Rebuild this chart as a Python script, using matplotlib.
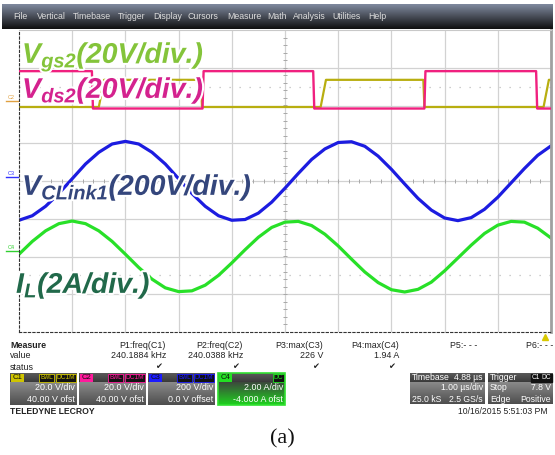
import numpy as np
import matplotlib
matplotlib.use('Agg')
import matplotlib.pyplot as plt
import matplotlib.patheffects as pe
from matplotlib.patches import Rectangle

plt.rcParams['font.family'] = ['Liberation Sans', 'DejaVu Sans']

# time axis: 1 us/div, 10 div, read every 0.25 us
t = np.arange(0, 10.01, 0.25)

# C3 V_CLink1 (divisions from centre)
vclink = [-1.04, -0.92, -0.67, -0.33, 0.06, 0.45, 0.76, 0.98, 1.05, 0.98,
          0.76, 0.45, 0.06, -0.33, -0.67, -0.92, -1.04, -1.02, -0.85, -0.56,
          -0.19, 0.20, 0.57, 0.85, 1.02, 1.04, 0.92, 0.66, 0.31, -0.08,
          -0.46, -0.77, -0.98, -1.05, -0.97, -0.75, -0.43, -0.05, 0.33, 0.68,
          0.93]
# C4 I_L (divisions from centre)
il = [-1.94, -1.60, -1.32, -1.13, -1.06, -1.13, -1.32, -1.60, -1.94, -2.29,
      -2.60, -2.83, -2.93, -2.91, -2.76, -2.50, -2.17, -1.82, -1.49, -1.23,
      -1.09, -1.07, -1.18, -1.41, -1.72, -2.07, -2.41, -2.69, -2.88, -2.94,
      -2.87, -2.68, -2.38, -2.04, -1.70, -1.39, -1.17, -1.07, -1.09, -1.25,
      -1.51]

# C2 V_ds2 and C1 V_gs2 square waves: edge times (us) and levels (div)
vds_edges = [1.37, 3.45, 5.53, 7.62, 9.72]
vds_lo, vds_hi = 1.92, 2.91
vgs_edges = [1.50, 3.42, 5.67, 7.60, 9.86]
vgs_lo, vgs_hi = 1.96, 2.68

menu = ['File', 'Vertical', 'Timebase', 'Trigger', 'Display', 'Cursors',
        'Measure', 'Math', 'Analysis', 'Utilities', 'Help']
menu_x = [13, 37, 73, 118, 153, 188, 227, 267, 293, 332, 368]

meas_names = ['P1:freq(C1)', 'P2:freq(C2)', 'P3:max(C3)', 'P4:max(C4)',
              'P5:- - -', 'P6:- - -']
meas_values = ['240.1884 kHz', '240.0388 kHz', '226 V', '1.94 A', '', '']
meas_ok = [True, True, True, True, False, False]
meas_right = [166, 243, 323, 399, 477, 553]

channels = ['C1', 'C2', 'C3', 'C4']
ch_colors = ['#cfc400', '#ff1a9c', '#1a1aff', '#22e022']
ch_vdiv = ['20.0 V/div', '20.0 V/div', '200 V/div', '2.00 A/div']
ch_ofst = ['40.00 V ofst', '40.00 V ofst', '0.0 V offset', '-4.000 A ofst']
ch_x = [10, 79, 148, 218]


def square(edges, lo, hi, start_high, rise, fall):
    xs, ys = [0.0], [hi if start_high else lo]
    level = start_high
    for e in edges:
        dt = fall if level else rise
        xs += [e, e + dt]
        ys += [hi if level else lo, lo if level else hi]
        level = not level
    xs.append(10.0)
    ys.append(hi if level else lo)
    return xs, ys


def grad(ax, x0, x1, y0, y1, c0, c1):
    c0 = np.array(matplotlib.colors.to_rgb(c0))
    c1 = np.array(matplotlib.colors.to_rgb(c1))
    f = np.linspace(0, 1, 40)[:, None]
    img = (c0 * (1 - f) + c1 * f)[:, None, :]
    ax.imshow(img, extent=[x0, x1, y1, y0], aspect='auto', zorder=1)


fig = plt.figure(figsize=(5.55, 4.55), dpi=100)
ov = fig.add_axes([0, 0, 1, 1], zorder=0)
ov.axis('off')

# menu bar
grad(ov, 2, 553, 4, 29, '#7f899e', '#101010')
for name, x in zip(menu, menu_x):
    ov.text(x, 16.5, name, color='#dcdcdc', fontsize=6.3, va='center', zorder=3)

# channel markers on the left edge
for lab, col, y in zip(['C2', 'C3', 'C4'], ['#e0a040', '#3030ff', '#30d030'], [101, 177, 251]):
    ov.text(11, y - 1, lab, color=col, fontsize=4, ha='center', va='bottom',
            rotation=0, zorder=3)
    ov.plot([6, 19], [y, y], color=col, lw=1, zorder=3)

# measurement table
ov.text(10, 345, 'Measure', fontsize=6.4, weight='bold', va='center', color='#222')
ov.text(10, 356, 'value', fontsize=6.4, va='center', color='#222')
ov.text(10, 367, 'status', fontsize=6.4, va='center', color='#222')
for name, val, ok, xr in zip(meas_names, meas_values, meas_ok, meas_right):
    ov.text(xr, 345, name, fontsize=6.4, ha='right', va='center', color='#222')
    ov.text(xr, 356, val, fontsize=6.4, ha='right', va='center', color='#222')
    if ok:
        ov.text(xr - 7, 367, '\u2714', fontsize=6, ha='center', va='center',
                color='#222', family='DejaVu Sans')
ov.plot([545], [337], marker='^', color='#d8c800', ms=4.5, zorder=3)

# channel boxes
for lab, col, vd, of, x in zip(channels, ch_colors, ch_vdiv, ch_ofst, ch_x):
    w = 67
    grad(ov, x, x + w, 373, 382, '#5a5a5a', '#3a3a3a')
    if lab == 'C4':
        grad(ov, x, x + w, 382, 405, '#3c4a3c', '#1ed21e')
        ov.add_patch(Rectangle((x, 373), w, 32, fill=False, ec='#30e030', lw=1.2, zorder=4))
    else:
        grad(ov, x, x + w, 382, 405, '#8a8a8a', '#4e4e4e')
    ov.add_patch(Rectangle((x + 1, 374), 13, 7.5, fc=col, ec='none', zorder=3))
    ov.text(x + 7.5, 377.8, lab, fontsize=5.6, ha='center', va='center', color='#111', zorder=4)
    if lab == 'C4':
        ov.text(x + w - 2, 377.8, 'DC', fontsize=4.8, ha='right', va='center', color=col, zorder=4,
                bbox=dict(fc='#111', ec=col, lw=0.6, pad=0.6))
    else:
        ov.text(x + w - 2, 377.8, 'DC1M', fontsize=4.8, ha='right', va='center', color=col, zorder=4,
                bbox=dict(fc='#111', ec=col, lw=0.6, pad=0.6))
        ov.text(x + w - 24, 377.8, 'BwL', fontsize=4.8, ha='right', va='center', color=col, zorder=4,
                bbox=dict(fc='#111', ec=col, lw=0.6, pad=0.6))
    ov.text(x + w - 2, 388, vd, fontsize=6.4, ha='right', va='center', color='white', zorder=4)
    ov.text(x + w - 2, 399, of, fontsize=6.4, ha='right', va='center', color='white', zorder=4)

# timebase / trigger boxes
for x0, x1 in [(410, 485), (488, 553)]:
    grad(ov, x0, x1, 373, 382, '#5a5a5a', '#3a3a3a')
    grad(ov, x0, x1, 382, 404, '#8a8a8a', '#4e4e4e')
ov.text(412, 377.8, 'Timebase', fontsize=6.2, va='center', color='white', zorder=4)
ov.text(483, 377.8, '4.88 \u00b5s', fontsize=6.2, ha='right', va='center', color='white', zorder=4)
ov.text(483, 388, '1.00 \u00b5s/div', fontsize=6.2, ha='right', va='center', color='white', zorder=4)
ov.text(412, 399, '25.0 kS', fontsize=6.2, va='center', color='white', zorder=4)
ov.text(483, 399, '2.5 GS/s', fontsize=6.2, ha='right', va='center', color='white', zorder=4)
ov.text(490, 377.8, 'Trigger', fontsize=6.2, va='center', color='white', zorder=4)
ov.text(551, 377.8, 'DC', fontsize=4.8, ha='right', va='center', color='white', zorder=4,
        bbox=dict(fc='#111', ec='#111', pad=0.6))
ov.text(540, 377.8, 'C1', fontsize=4.8, ha='right', va='center', color='white', zorder=4,
        bbox=dict(fc='#111', ec='#111', pad=0.6))
ov.text(490, 388, 'Stop', fontsize=6.2, va='center', color='white', zorder=4)
ov.text(551, 388, '7.8 V', fontsize=6.2, ha='right', va='center', color='white', zorder=4)
ov.text(490, 399, 'Edge', fontsize=6.2, va='center', color='white', zorder=4)
ov.text(551, 399, 'Positive', fontsize=6.2, ha='right', va='center', color='white', zorder=4)

ov.text(10, 411, 'TELEDYNE LECROY', fontsize=6.2, weight='bold', va='center', color='#222')
ov.text(548, 411, '10/16/2015 5:51:03 PM', fontsize=6.2, ha='right', va='center', color='#222')

ov.text(282, 439, '(a)', fontsize=16, ha='center', va='center', family='Liberation Serif', color='#111')

ov.set_xlim(0, 555)
ov.set_ylim(455, 0)

# scope screen
ax = fig.add_axes([19 / 555, 1 - 332 / 455, 532 / 555, 302 / 455], zorder=1)
ax.set_xlim(0, 10)
ax.set_ylim(-4, 4)
ax.set_xticks([])
ax.set_yticks([])
for i in range(1, 10):
    ax.axvline(i, color='#d2d2d2', lw=0.9, zorder=0)
for j in range(-3, 4):
    ax.axhline(j, color='#d2d2d2', lw=0.9, zorder=0)
for yy in (2.5, -2.5):
    ax.axhline(yy, color='#bdbdbd', lw=0.9, dashes=(1, 7), zorder=0)
ax.plot(np.arange(0.2, 10, 0.2), np.zeros(49), ls='none', marker='|', ms=3.5, mew=0.7, color='#a8a8a8', zorder=0)
ax.plot(np.full(39, 5.0), np.arange(-3.8, 3.9, 0.2), ls='none', marker='_', ms=3.5, mew=0.7, color='#a8a8a8', zorder=0)
ax.spines['left'].set_linestyle((0, (2, 2)))
ax.spines['bottom'].set_linestyle((0, (2, 2)))
ax.spines['left'].set_color('#333')
ax.spines['bottom'].set_color('#333')
ax.spines['left'].set_linewidth(0.8)
ax.spines['bottom'].set_linewidth(0.8)
ax.spines['top'].set_color('#c8c8c8')
ax.spines['right'].set_color('#a0a0a0')
ax.spines['right'].set_linewidth(2)

xg, yg = square(vgs_edges, vgs_lo, vgs_hi, False, 0.10, 0.02)
xd, yd = square(vds_edges, vds_lo, vds_hi, True, 0.02, 0.02)
ax.plot(xg, yg, color='#b8ae10', lw=1.6, zorder=2)
ax.plot(xd, yd, color='#f0207f', lw=1.7, zorder=3)
ax.plot(t, vclink, color='#1c1ce0', lw=2.3, zorder=2, solid_joinstyle='round')
ax.plot(t, il, color='#28e028', lw=2.3, zorder=2, solid_joinstyle='round')

# annotations on top
top = fig.add_axes([0, 0, 1, 1], zorder=2)
top.patch.set_alpha(0)
top.axis('off')
top.set_xlim(0, 555)
top.set_ylim(455, 0)
glow = [pe.withStroke(linewidth=3, foreground='white')]
labels = [r'$\mathregular{V_{gs2}}$(20V/div.)', r'$\mathregular{V_{ds2}}$(20V/div.)',
          r'$\mathregular{V_{CLink1}}$(200V/div.)', r'$\mathregular{I_{L}}$(2A/div.)']
lab_colors = ['#84c43a', '#d4228e', '#34467c', '#21694a']
lab_pos = [(22, 63), (22, 98), (22, 195), (16, 293)]
for s, c, (x, y) in zip(labels, lab_colors, lab_pos):
    top.text(x, y, s, color=c, fontsize=20.5, weight='bold', style='italic',
             va='baseline', path_effects=glow)

fig.savefig('out.png', dpi=100)
